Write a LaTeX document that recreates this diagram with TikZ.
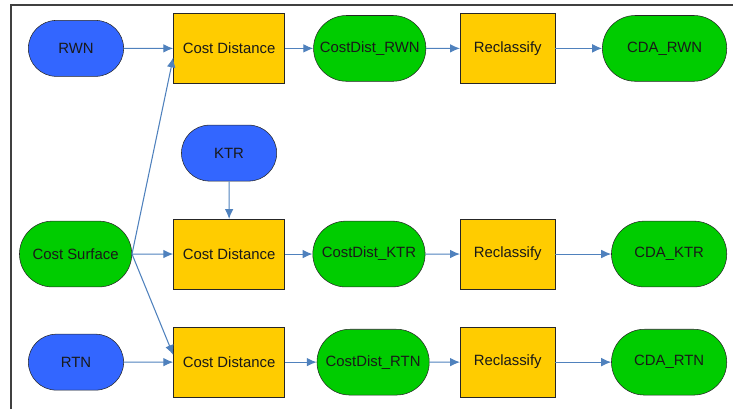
\documentclass[tikz,border=0pt]{standalone}
\usepackage{fontspec}
\setmainfont{Liberation Sans}
\usepackage{xcolor}
\definecolor{gisblue}{RGB}{51,102,255}
\definecolor{gisgreen}{RGB}{0,204,0}
\definecolor{gisyellow}{RGB}{255,204,0}
\definecolor{gisarrow}{RGB}{79,129,189}
\definecolor{gisframe}{RGB}{64,64,64}
\usepackage{tikz}
\usetikzlibrary{arrows.meta, shapes.misc}

\tikzset{
  inputdata/.style={rounded rectangle, draw=black!85, fill=gisblue,
    minimum width=2.59cm, minimum height=1.48cm, inner sep=1pt},
  derived/.style={rounded rectangle, draw=black!85, fill=gisgreen,
    minimum height=1.74cm, inner sep=1pt},
  toolbox/.style={rectangle, draw=black!85, fill=gisyellow,
    minimum height=1.84cm, inner sep=1pt},
  flow/.style={-{Latex[length=7.5pt,width=6.5pt]}, gisarrow, line width=0.8pt},
}

\begin{document}
\begin{tikzpicture}[font=\fontsize{11.2}{13}\selectfont, text=black!90]
      \useasboundingbox (0,0) rectangle (19.39,10.82);
      \draw[gisframe, line width=1.6pt] (0.29,0) -- (0.29,10.69) -- (19.39,10.69);

      % inputs
      \node[inputdata] (rwn) at (2.01,9.54) {RWN};
      \node[inputdata] (ktr) at (6.06,6.77) {KTR};
      \node[inputdata] (rtn) at (2.01,1.24) {RTN};
      \node[derived, minimum width=3.04cm] (cs) at (2.00,4.10) {Cost Surface};

      % rows
      \node[toolbox, minimum width=2.94cm] (cd1) at (6.06,9.54) {Cost Distance};
      \node[toolbox, minimum width=2.94cm] (cd2) at (6.06,4.10) {Cost Distance};
      \node[toolbox, minimum width=2.94cm] (cd3) at (6.06,1.24) {Cost Distance};
      \node[derived, minimum width=3.04cm] (dist1) at (9.78,9.54) {CostDist\_RWN};
      \node[derived, minimum width=3.04cm] (dist2) at (9.76,4.10) {CostDist\_KTR};
      \node[derived, minimum width=3.04cm] (dist3) at (9.87,1.24) {CostDist\_RTN};
      \node[toolbox, minimum width=2.51cm] (rc1) at (13.43,9.54) {Reclassify};
      \node[toolbox, minimum width=2.51cm] (rc2) at (13.43,4.10) {Reclassify};
      \node[toolbox, minimum width=2.51cm] (rc3) at (13.43,1.24) {Reclassify};
      \node[derived, minimum width=3.36cm] (cda1) at (17.58,9.54) {CDA\_RWN};
      \node[derived, minimum width=3.12cm] (cda2) at (17.70,4.10) {CDA\_KTR};
      \node[derived, minimum width=3.12cm] (cda3) at (17.70,1.24) {CDA\_RTN};

      \draw[flow] (rwn) -- (cd1);
      \draw[flow] (ktr) -- (cd2);
      \draw[flow] (rtn) -- (cd3);
      \draw[flow] (cs.east) -- ([yshift=-0.24cm]cd1.west);
      \draw[flow] (cs) -- (cd2);
      \draw[flow] (cs.east) -- ([yshift=0.19cm]cd3.west);
      \foreach \r in {1,2,3} {
        \draw[flow] (cd\r) -- (dist\r);
        \draw[flow] (dist\r) -- (rc\r);
        \draw[flow] (rc\r) -- (cda\r);
      }
\end{tikzpicture}
\end{document}
